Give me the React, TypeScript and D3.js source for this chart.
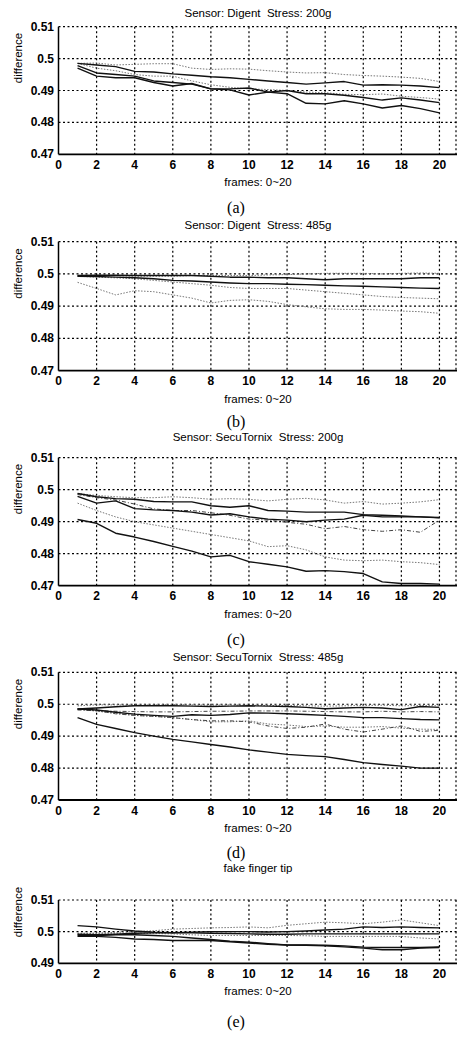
import React from 'react';
import * as d3 from 'd3';

// frame index shared by every panel
const frames = [1, 2, 3, 4, 5, 6, 7, 8, 9, 10, 11, 12, 13, 14, 15, 16, 17, 18, 19, 20];
const xTicks = [0, 2, 4, 6, 8, 10, 12, 14, 16, 18, 20];
const yTicksFull = [0.47, 0.48, 0.49, 0.5, 0.51];
const yTicksShort = [0.49, 0.5, 0.51];

const titles = [
  'Sensor: Digent\u00a0 Stress: 200g',
  'Sensor: Digent\u00a0 Stress: 485g',
  'Sensor: SecuTornix\u00a0 Stress: 200g',
  'Sensor: SecuTornix\u00a0 Stress: 485g',
  'fake finger tip',
];
const captions = ['(a)', '(b)', '(c)', '(d)', '(e)'];

// (a) Digent 200g
const aSolid1 = [0.4985, 0.498, 0.4975, 0.496, 0.4958, 0.4952, 0.4948, 0.4943, 0.494, 0.4935, 0.493, 0.4925, 0.492, 0.4924, 0.4928, 0.4917, 0.4918, 0.4917, 0.4914, 0.4909];
const aDot1 = [0.4985, 0.4986, 0.498, 0.4982, 0.4984, 0.4984, 0.497, 0.4966, 0.4968, 0.4967, 0.4962, 0.4958, 0.4955, 0.4956, 0.495, 0.4947, 0.4945, 0.4942, 0.4938, 0.4928];
const aSolid2 = [0.497, 0.4945, 0.494, 0.494, 0.4925, 0.4914, 0.4922, 0.4905, 0.4905, 0.4908, 0.4895, 0.49, 0.489, 0.489, 0.4885, 0.4878, 0.487, 0.4877, 0.487, 0.4862];
const aSolid3 = [0.4978, 0.4955, 0.495, 0.4945, 0.493, 0.4925, 0.492, 0.4905, 0.4902, 0.4886, 0.4895, 0.489, 0.486, 0.4858, 0.4868, 0.4858, 0.4845, 0.4853, 0.4843, 0.483];
const aDot2 = [0.4985, 0.497, 0.4962, 0.495, 0.4945, 0.4945, 0.493, 0.4918, 0.491, 0.4905, 0.4903, 0.49, 0.4895, 0.4893, 0.4888, 0.4887, 0.4889, 0.4882, 0.4878, 0.4873];

// (b) Digent 485g
const bSolid1 = [0.4995, 0.4996, 0.4996, 0.4995, 0.4995, 0.4995, 0.4995, 0.4993, 0.499, 0.499, 0.4988, 0.4988, 0.4985, 0.4982, 0.4985, 0.4985, 0.4985, 0.4985, 0.4988, 0.4988];
const bDot1 = [0.4994, 0.4995, 0.4995, 0.4993, 0.4993, 0.4993, 0.4995, 0.4995, 0.4995, 0.4995, 0.4997, 0.4998, 0.5, 0.5002, 0.5002, 0.5002, 0.5, 0.5002, 0.5003, 0.5002];
const bSolid2 = [0.4993, 0.4992, 0.499, 0.4988, 0.4985, 0.498, 0.4978, 0.4975, 0.4972, 0.497, 0.497, 0.4968, 0.4967, 0.4965, 0.4963, 0.4962, 0.496, 0.4958, 0.4956, 0.4955];
const bDot2 = [0.4993, 0.499, 0.4988, 0.4985, 0.498, 0.4975, 0.497, 0.4965, 0.4958, 0.4955, 0.4955, 0.4955, 0.495, 0.4945, 0.494, 0.4935, 0.493, 0.4927, 0.4925, 0.4923];
const bDot3 = [0.4974, 0.4955, 0.4935, 0.4948, 0.4945, 0.4935, 0.4925, 0.491, 0.4918, 0.492, 0.4915, 0.4905, 0.4898, 0.4892, 0.489, 0.489, 0.4888, 0.4885, 0.4883, 0.4878];

// (c) SecuTornix 200g
const cSolid1 = [0.4907, 0.4895, 0.4864, 0.4852, 0.4838, 0.4823, 0.4808, 0.479, 0.4795, 0.4775, 0.4767, 0.4759, 0.4745, 0.4747, 0.4744, 0.4738, 0.4712, 0.4707, 0.4707, 0.4705];
const cDot1 = [0.4958, 0.4935, 0.4915, 0.49, 0.489, 0.488, 0.487, 0.486, 0.485, 0.484, 0.4822, 0.4825, 0.4812, 0.479, 0.478, 0.4778, 0.478, 0.4775, 0.4772, 0.4766];
const cSolid2 = [0.4988, 0.4978, 0.4972, 0.497, 0.4963, 0.4962, 0.4962, 0.495, 0.4945, 0.495, 0.4935, 0.4933, 0.493, 0.493, 0.493, 0.4922, 0.492, 0.4918, 0.4915, 0.4913];
const cSolid3 = [0.4979, 0.4958, 0.4965, 0.4941, 0.4937, 0.4935, 0.493, 0.4921, 0.4925, 0.4915, 0.4908, 0.4905, 0.49, 0.4905, 0.4908, 0.492, 0.4915, 0.4915, 0.4915, 0.4912];
const cDot2 = [0.4988, 0.4982, 0.4978, 0.4975, 0.4975, 0.4978, 0.4975, 0.497, 0.4972, 0.497, 0.4965, 0.497, 0.4973, 0.4968, 0.4958, 0.4963, 0.4955, 0.4958, 0.4962, 0.4969];
const cDash1 = [0.4985, 0.4975, 0.4968, 0.4955, 0.494, 0.4935, 0.4935, 0.4928, 0.492, 0.4908, 0.4905, 0.4898, 0.4892, 0.4878, 0.4885, 0.4875, 0.487, 0.4875, 0.4867, 0.4905];

// (d) SecuTornix 485g
const dSolid1 = [0.4958, 0.4937, 0.4924, 0.4911, 0.49, 0.489, 0.4882, 0.4874, 0.4866, 0.4857, 0.485, 0.4843, 0.4839, 0.4836, 0.4827, 0.4817, 0.4811, 0.4806, 0.48, 0.48];
const dSolid2 = [0.4985, 0.4988, 0.4992, 0.4995, 0.4995, 0.4995, 0.4994, 0.4993, 0.4994, 0.4995, 0.4994, 0.4993, 0.499, 0.4986, 0.4988, 0.499, 0.4988, 0.4983, 0.4993, 0.499];
const dSolid3 = [0.4985, 0.4982, 0.4975, 0.4969, 0.4965, 0.4962, 0.4967, 0.4965, 0.4968, 0.4973, 0.4972, 0.497, 0.4968, 0.4965, 0.4962, 0.4958, 0.4958, 0.4955, 0.4952, 0.4951];
const dDot1 = [0.4985, 0.4978, 0.4972, 0.4965, 0.4962, 0.4958, 0.4952, 0.4945, 0.4945, 0.4948, 0.4938, 0.4935, 0.493, 0.4932, 0.4928, 0.4928, 0.493, 0.4925, 0.4922, 0.4921];
const dDash1 = [0.4985, 0.498, 0.497, 0.4965, 0.4962, 0.4958, 0.4952, 0.4948, 0.4948, 0.4945, 0.4932, 0.4924, 0.4928, 0.4938, 0.4922, 0.4913, 0.4922, 0.4932, 0.4915, 0.4918];
const dDot2 = [0.4995, 0.4998, 0.4998, 0.4997, 0.4998, 0.4999, 0.4998, 0.4997, 0.4998, 0.4997, 0.4996, 0.4996, 0.4995, 0.4994, 0.4995, 0.4996, 0.4997, 0.4995, 0.4996, 0.4995];
const dDash2 = [0.4982, 0.498, 0.4978, 0.4977, 0.4976, 0.4976, 0.4977, 0.4978, 0.4978, 0.4979, 0.4979, 0.4979, 0.4978, 0.4977, 0.4976, 0.4976, 0.4978, 0.4976, 0.4977, 0.4976];

// (e) fake finger tip
const eSolid1 = [0.5019, 0.5015, 0.5008, 0.5002, 0.4998, 0.4997, 0.4998, 0.5, 0.5, 0.5, 0.4999, 0.5, 0.5002, 0.5005, 0.5008, 0.5015, 0.5013, 0.5015, 0.5013, 0.5012];
const eDot1 = [0.4992, 0.4995, 0.4998, 0.5, 0.5003, 0.5008, 0.501, 0.5012, 0.5013, 0.5015, 0.5012, 0.502, 0.5025, 0.503, 0.5028, 0.5025, 0.503, 0.5037, 0.5028, 0.5019];
const eSolid2 = [0.4985, 0.4985, 0.4982, 0.4977, 0.4975, 0.4972, 0.4972, 0.4972, 0.4968, 0.4964, 0.496, 0.4958, 0.4958, 0.4957, 0.4955, 0.4951, 0.495, 0.495, 0.495, 0.4952];
const eSolid3 = [0.4988, 0.4988, 0.499, 0.499, 0.4988, 0.4985, 0.498, 0.4975, 0.497, 0.4967, 0.4962, 0.4958, 0.4957, 0.4955, 0.4952, 0.4948, 0.4943, 0.4943, 0.4948, 0.495];
const eDot2 = [0.4995, 0.4995, 0.4995, 0.4995, 0.4994, 0.4993, 0.499, 0.4988, 0.4988, 0.4988, 0.4988, 0.4988, 0.4987, 0.4985, 0.4985, 0.4985, 0.4985, 0.4985, 0.498, 0.4977];
const eSolid4 = [0.4992, 0.499, 0.4992, 0.4995, 0.4996, 0.4997, 0.4996, 0.4995, 0.4994, 0.4993, 0.4992, 0.4992, 0.4993, 0.4993, 0.4993, 0.4993, 0.4993, 0.4993, 0.4993, 0.4993];

type Kind = 'solid' | 'dot' | 'dash';

const lineStyle: Record<Kind, { stroke: string; width: number; dash?: string }> = {
  solid: { stroke: '#111', width: 1.4 },
  dot: { stroke: '#777', width: 1, dash: '1.5 1.5' },
  dash: { stroke: '#444', width: 1, dash: '4 2 1 2' },
};

const W = 457;
const H = 1042;
const left = 58.5;
const font = '"Liberation Sans", Arial, sans-serif';

// pixel layout of each panel
const panels = [
  { top: 26.7, bottom: 154.3, titleY: 13, labelY: 58, capY: 207, yDom: [0.47, 0.51], yTicks: yTicksFull,
    series: [[aDot1, 'dot'], [aDot2, 'dot'], [aSolid1, 'solid'], [aSolid2, 'solid'], [aSolid3, 'solid']] },
  { top: 241.7, bottom: 370.7, titleY: 225, labelY: 273.5, capY: 421, yDom: [0.47, 0.51], yTicks: yTicksFull,
    series: [[bDot1, 'dot'], [bDot2, 'dot'], [bDot3, 'dot'], [bSolid1, 'solid'], [bSolid2, 'solid']] },
  { top: 457.7, bottom: 585.7, titleY: 436.5, labelY: 489, capY: 639, yDom: [0.47, 0.51], yTicks: yTicksFull,
    series: [[cDot1, 'dot'], [cDot2, 'dot'], [cDash1, 'dash'], [cSolid1, 'solid'], [cSolid2, 'solid'], [cSolid3, 'solid']] },
  { top: 672.3, bottom: 800, titleY: 656.7, labelY: 704, capY: 852, yDom: [0.47, 0.51], yTicks: yTicksFull,
    series: [[dDot1, 'dot'], [dDot2, 'dot'], [dDash1, 'dash'], [dDash2, 'dash'], [dSolid1, 'solid'], [dSolid2, 'solid'], [dSolid3, 'solid']] },
  { top: 900, bottom: 963.3, titleY: 868.3, labelY: 912, capY: 1021, yDom: [0.49, 0.51], yTicks: yTicksShort,
    series: [[eDot1, 'dot'], [eDot2, 'dot'], [eSolid1, 'solid'], [eSolid2, 'solid'], [eSolid3, 'solid'], [eSolid4, 'solid']] },
];

const x = d3.scaleLinear().domain([0, 21]).range([left, 458.5]);

const fmt = (v: number) => (v === 0.5 ? '0.5' : v.toFixed(2));

const Panel = ({ p, i }: { p: any; i: number }) => {
  const y = d3.scaleLinear().domain(p.yDom).range([p.bottom, p.top]);
  const line = d3.line<number>().x((_, k) => x(frames[k])).y(d => y(d));
  const gridDash = '2 2.5';
  return (
    <g>
      <text x={258} y={p.titleY} textAnchor="middle" dominantBaseline="central" fontSize={11.5} fontFamily={font}>
        {titles[i]}
      </text>
      {/* horizontal grid */}
      {p.yTicks.slice(1).map((t: number) => (
        <line key={'h' + t} x1={left} x2={W} y1={y(t)} y2={y(t)} stroke="#000" strokeWidth={1.2} strokeDasharray={gridDash} />
      ))}
      {/* vertical grid */}
      {xTicks.slice(1).map(t => (
        <line key={'v' + t} x1={x(t)} x2={x(t)} y1={p.top} y2={p.bottom} stroke="#000" strokeWidth={1.2} strokeDasharray={gridDash} />
      ))}
      <line x1={W - 1} x2={W - 1} y1={p.top} y2={p.bottom} stroke="#000" strokeWidth={1.2} strokeDasharray={gridDash} />
      {/* series */}
      {p.series.map(([vals, kind]: [number[], Kind], k: number) => {
        const s = lineStyle[kind];
        return (
          <path key={k} d={line(vals) || ''} fill="none" stroke={s.stroke} strokeWidth={s.width}
            strokeDasharray={s.dash} strokeLinejoin="round" />
        );
      })}
      {/* axes */}
      <line x1={left} x2={left} y1={p.top} y2={p.bottom} stroke="#000" strokeWidth={1.5} />
      <line x1={left} x2={W} y1={p.bottom} y2={p.bottom} stroke="#000" strokeWidth={1.8} />
      {p.yTicks.map((t: number) => (
        <text key={'yl' + t} x={54} y={y(t)} textAnchor="end" dominantBaseline="central" fontSize={12}
          fontFamily={font} fontWeight="bold">
          {fmt(t)}
        </text>
      ))}
      {xTicks.map(t => (
        <text key={'xl' + t} x={x(t)} y={p.bottom + 10.5} textAnchor="middle" dominantBaseline="central" fontSize={12}
          fontFamily={font} fontWeight="bold">
          {t}
        </text>
      ))}
      <text x={258} y={p.bottom + 28} textAnchor="middle" dominantBaseline="central" fontSize={11.5} fontFamily={font}>
        frames: 0~20
      </text>
      <text transform={`translate(17.5,${p.labelY}) rotate(-90)`} textAnchor="middle" dominantBaseline="central"
        fontSize={11.5} fontFamily={font}>
        difference
      </text>
      <text x={236} y={p.capY} textAnchor="middle" dominantBaseline="central" fontSize={16}
        fontFamily='"Liberation Serif", "Times New Roman", serif'>
        {captions[i]}
      </text>
    </g>
  );
};

export default function App() {
  return (
    <svg width={W} height={H} style={{ position: 'absolute', left: 0, top: 0, background: '#fff' }}>
      <rect width={W} height={H} fill="#fff" />
      {panels.map((p, i) => (
        <Panel key={i} p={p} i={i} />
      ))}
    </svg>
  );
}
